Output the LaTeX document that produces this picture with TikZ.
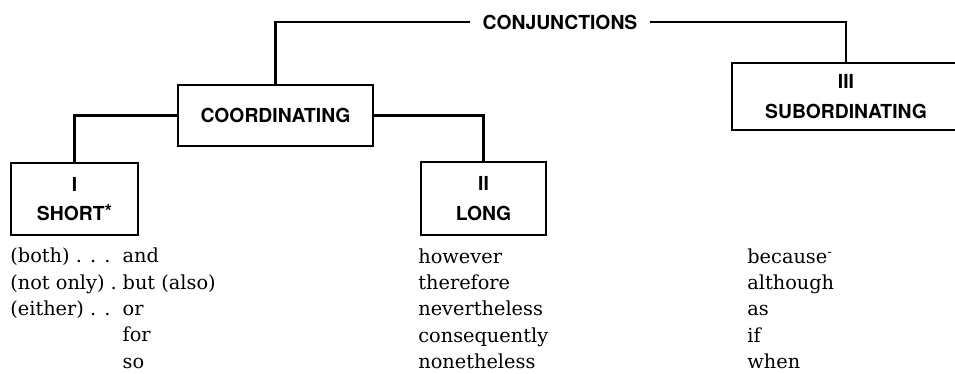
\documentclass[tikz,border=0pt]{standalone}
\usepackage{fontspec}
\setmainfont{DejaVu Serif}
\newfontfamily\labelfont{TeX Gyre Heros}
\usetikzlibrary{positioning}

\begin{document}
\begin{tikzpicture}[x=0.02cm,y=-0.02cm]
    \tikzstyle{heading} = [inner xsep=0.24cm, font=\labelfont\bfseries\fontsize{11}{17}\selectfont]
    \tikzstyle{box} = [rectangle, draw, line width=1.2pt, align=center, font=\labelfont\bfseries\fontsize{11}{17}\selectfont]
    \tikzstyle{line} = [line width=1.2pt]
    \tikzstyle{words} = [anchor=north west, align=left, inner sep=0pt, font=\fontsize{11}{15}\selectfont]
    \useasboundingbox (0,0) rectangle (955,373);
    \node (conj) [heading] at (560,22) {CONJUNCTIONS};
    \node (coord) [box, minimum width=3.9cm, minimum height=1.22cm] at (275.5,115.5) {COORDINATING};
    \node (sub) [box, minimum width=4.56cm, minimum height=1.34cm] at (846,96.5) {III\\SUBORDINATING};
    \node (short) [box, minimum width=2.54cm, minimum height=1.44cm] at (74.5,199) {I\\SHORT\raisebox{0.25ex}{*}};
    \node (long) [box, minimum width=2.5cm, minimum height=1.46cm] at (483.5,198.5) {II\\LONG};
    \node (shortlist) [words] at (10,244) {\begin{tabular}{@{}l@{\hspace{0.3em}}l@{}}(both) . . . & and\\(not only) . & but (also)\\(either) . . & or\\ & for\\ & so\end{tabular}};
    \node (longlist) [words] at (418,248) {however\\therefore\\nevertheless\\consequently\\nonetheless};
    \node (sublist) [words] at (747,248) {because\textsuperscript{-}\\although\\as\\if\\when};
    \draw [line] (coord.north) |- (conj.west);
    \draw [line] (conj.east) -| (sub.north);
    \draw [line] (coord.west) -| (short.north);
    \draw [line] (coord.east) -| (long.north);
\end{tikzpicture}
\end{document}
